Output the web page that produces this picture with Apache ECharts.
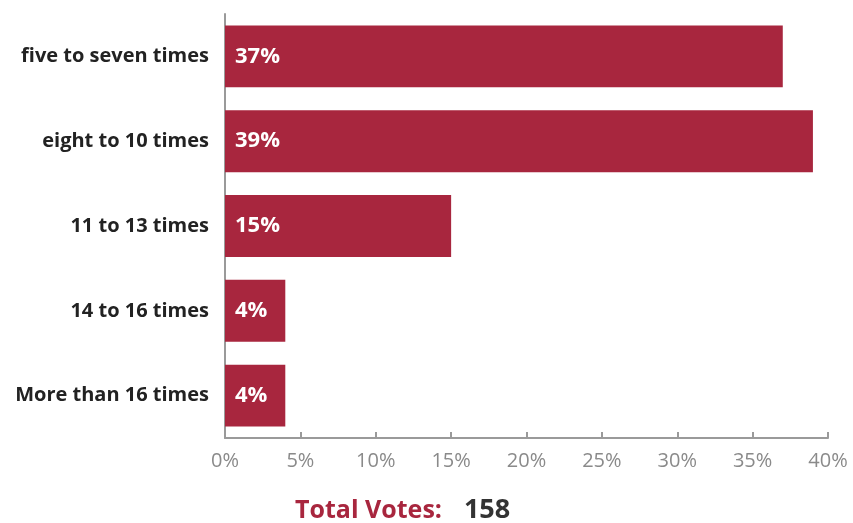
<!DOCTYPE html>
<html>
<head>
<meta charset="utf-8">
<script src="https://cdn.jsdelivr.net/npm/echarts@6/dist/echarts.min.js"></script>
<style>
  html, body { margin: 0; padding: 0; background: #fff; }
  #chart { width: 853px; height: 523px; }
</style>
</head>
<body>
<div id="chart"></div>
<script>
// data
var categories = ['five to seven times', 'eight to 10 times', '11 to 13 times', '14 to 16 times', 'More than 16 times'];
var votes = [37, 39, 15, 4, 4];
var totalVotes = 158;

var chart = echarts.init(document.getElementById('chart'));

var option = {
    animation: false,
    grid: { left: 225, right: 25, top: 14, bottom: 85, containLabel: false },
    xAxis: {
        type: 'value',
        min: 0,
        max: 40,
        interval: 5,
        axisLine: { show: true, lineStyle: { color: '#9a9a9a', width: 2 } },
        axisTick: { show: true, inside: true, length: 6, lineStyle: { color: '#9a9a9a', width: 2 } },
        splitLine: { show: false },
        axisLabel: {
            formatter: '{value}%',
            color: '#8a8a8a',
            fontFamily: 'Open Sans',
            fontSize: 20,
            margin: 13
        }
    },
    yAxis: {
        type: 'category',
        inverse: true,
        data: categories,
        axisLine: { show: true, lineStyle: { color: '#9a9a9a', width: 2 } },
        axisTick: { show: false },
        axisLabel: {
            color: '#222',
            fontFamily: 'Open Sans',
            fontWeight: 'bold',
            fontSize: 20,
            margin: 16
        }
    },
    series: [{
        type: 'bar',
        data: votes,
        barCategoryGap: '27%',
        itemStyle: { color: '#a8263e' },
        label: {
            show: true,
            position: 'insideLeft',
            distance: 10,
            formatter: '{c}%',
            color: '#fff',
            fontFamily: 'Open Sans',
            fontWeight: 'bold',
            fontSize: 22
        }
    }],
    graphic: [{
        type: 'text',
        left: 295,
        top: 497,
        style: {
            text: '{a|Total Votes:}{b|' + totalVotes + '}',
            rich: {
                a: { fill: '#a8263e', fontFamily: 'Open Sans', fontWeight: 'bold', fontSize: 25 },
                b: { fill: '#333', fontFamily: 'Open Sans', fontWeight: 'bold', fontSize: 27, padding: [0, 0, 0, 22] }
            }
        }
    }]
};

chart.setOption(option);
</script>
</body>
</html>
